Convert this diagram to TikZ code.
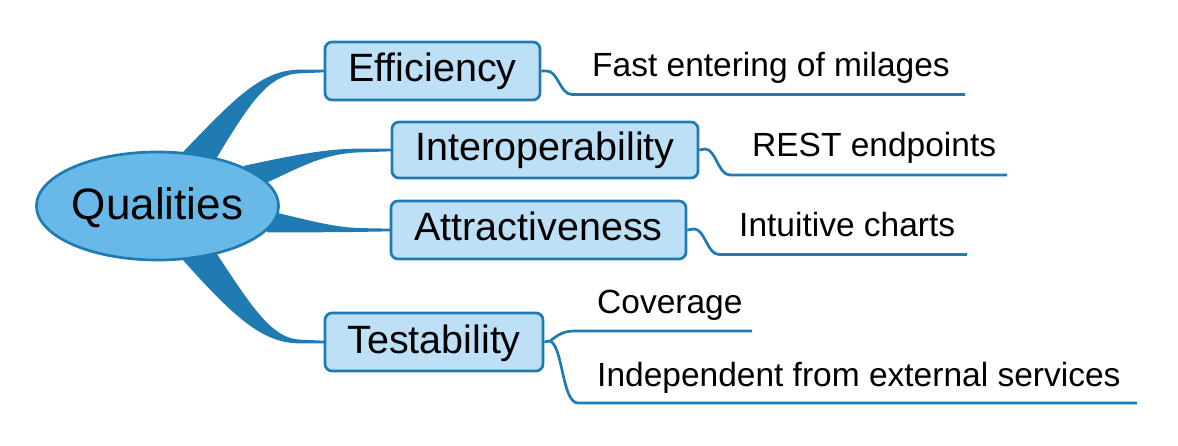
\documentclass[tikz,border=0pt]{standalone}
\usepackage{fontspec}
\setmainfont{Liberation Sans}
\usetikzlibrary{shapes.geometric}
\definecolor{linec}{RGB}{31,123,178}
\definecolor{ellfill}{RGB}{104,185,232}
\definecolor{boxfill}{RGB}{189,224,247}
\tikzset{
  topic/.style={draw=linec, line width=2.7pt, fill=boxfill, rounded corners=7pt, inner sep=0pt,
    text height=26pt, text depth=4pt, font=\fontsize{39.5}{44}\selectfont},
  central/.style={ellipse, draw=linec, line width=2.7pt, fill=ellfill, inner sep=0pt,
    minimum width=238pt, minimum height=108pt, font=\fontsize{44}{50}\selectfont,
    text height=30pt, text depth=2pt},
  leaf/.style={anchor=base west, inner sep=0pt, font=\fontsize{33.5}{38}\selectfont},
  branch/.style={fill=linec, draw=linec, line width=2.7pt, line join=round},
  twig/.style={draw=linec, line width=2.7pt},
}
\begin{document}
\begin{tikzpicture}[x=1pt,y=-1pt]
\useasboundingbox (0,0) rectangle (1178,446);
% topic boxes
\node[topic, minimum width=215pt, minimum height=58pt] (eff) at (432.5,71) {Efficiency};
\node[topic, minimum width=306pt, minimum height=56pt] (int) at (545,150) {Interoperability};
\node[topic, minimum width=295pt, minimum height=58pt] (att) at (538.5,230) {Attractiveness};
\node[topic, minimum width=218pt, minimum height=58pt] (tes) at (434,342) {Testability};
% main branches
\path[branch] (183,154) .. controls (235,100) and (262,71) .. (300,71) -- (eff.west)
  -- (300,72) .. controls (268,73) and (250,100) .. (215,158) -- cycle;
\path[branch] (245,167) .. controls (300,155) and (330,150) .. (360,150) -- (int.west)
  -- (360,151) .. controls (322,152) and (296,168) .. (267,181) -- cycle;
\path[branch] (276,214) .. controls (310,222) and (335,229) .. (362,229.5) -- (att.west)
  -- (362,230.5) .. controls (330,231) and (300,231) .. (268,231) -- cycle;
\path[branch] (183,258) .. controls (238,320) and (265,342) .. (300,342) -- (tes.west)
  -- (300,341) .. controls (272,340) and (252,310) .. (216,255) -- cycle;
% central node
\node[central] (q) at (157.5,206) {Qualities};
% leaves
\node[leaf] (l1) at (592,77) {Fast entering of milages};
\node[leaf] (l2) at (752,157) {REST endpoints};
\node[leaf] (l3) at (739,237) {Intuitive charts};
\node[leaf] (l4) at (597,313) {Coverage};
\node[leaf] (l5) at (597,386) {Independent from external services};
\coordinate (e1) at (965,94.5);
\coordinate (e2) at (1007,175);
\coordinate (e3) at (967,254.5);
\coordinate (e4) at (752,331);
\coordinate (e5) at (1137,403);
% twigs
\draw[twig] (eff.east) -- (547,71) .. controls (558,71) and (560,94.5) .. (572,94.5) -- (e1);
\draw[twig] (int.east) -- (705,149) .. controls (716,149) and (718,175) .. (730,175) -- (e2);
\draw[twig] (att.east) -- (694,229) .. controls (705,229) and (707,254.5) .. (719,254.5) -- (e3);
\draw[twig] (tes.east) -- (550,341) .. controls (558,335) and (563,331) .. (575,331) -- (e4);
\draw[twig] (550,341) .. controls (563,346) and (562,403) .. (578,403) -- (e5);
\end{tikzpicture}
\end{document}
